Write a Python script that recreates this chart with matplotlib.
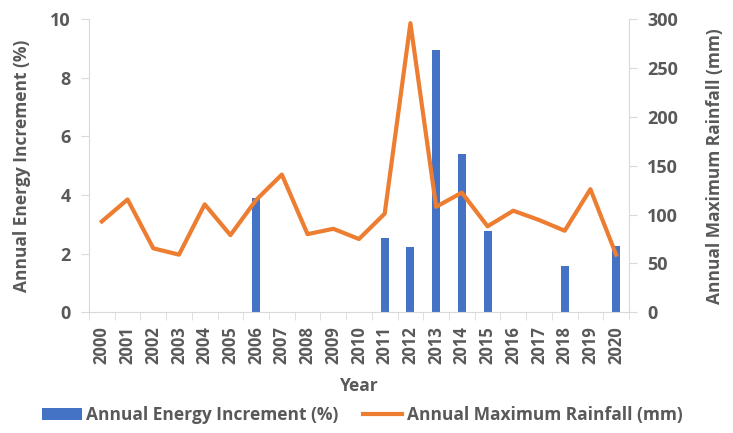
import numpy as np
import matplotlib; matplotlib.use("Agg")
import matplotlib.pyplot as plt

# ── Data ──────────────────────────────────────────────────────────────────────
years = [str(y) for y in range(2000, 2021)]
energy_increment = [0, 0, 0, 0, 0, 0, 3.90, 0, 0, 0, 0,
                    2.54, 2.23, 8.95, 5.40, 2.78, 0, 0, 1.58, 0, 2.26]
max_rainfall = [93, 115.5, 65.5, 59, 110.5, 79, 115, 141, 80, 85.5, 75,
                101, 296, 108, 122.5, 88, 104, 94.5, 83.5, 126, 59]

BAR_C  = "#4472C4"
LINE_C = "#ED7D31"
TXT_C  = "#595959"
AX_C   = "#D9D9D9"

plt.rcParams["font.family"] = ["Open Sans", "DejaVu Sans"]
plt.rcParams["font.weight"] = "bold"

fig = plt.figure(figsize=(7.33, 4.33), dpi=100)
ax = fig.add_axes([0.1214, 0.2788, 0.7367, 0.6767])
ax2 = ax.twinx()

x = np.arange(len(years))
ax.bar(x, energy_increment, width=0.31, color=BAR_C, zorder=2,
       label="Annual Energy Increment (%)")
ax2.plot(x, max_rainfall, color=LINE_C, lw=3, zorder=3,
         label="Annual Maximum Rainfall (mm)")

ax.set_xlim(-0.5, len(years) - 0.5)
ax.set_ylim(0, 10)
ax2.set_ylim(0, 300)
ax.set_yticks(range(0, 11, 2))
ax2.set_yticks(range(0, 301, 50))

ax.set_xticks(x)
ax.set_xticklabels(years, rotation=90)
ax.set_xticks(np.arange(-0.5, len(years)), minor=True)
ax.tick_params(axis="x", which="major", length=0, pad=10)
ax.tick_params(axis="x", which="minor", length=6, color=AX_C)

for a in (ax, ax2):
    for s in a.spines.values():
        s.set_visible(False)
    a.tick_params(axis="y", length=6, color=AX_C, labelsize=13,
                  labelcolor=TXT_C, pad=7)
for lbl in ax.get_yticklabels() + ax2.get_yticklabels() + ax.get_xticklabels():
    lbl.set_fontweight("bold")
ax.tick_params(axis="x", labelsize=12, labelcolor=TXT_C)
for side in ("bottom", "left"):
    ax.spines[side].set_visible(True)
    ax.spines[side].set_color(AX_C)
ax2.spines["right"].set_visible(True)
ax2.spines["right"].set_color(AX_C)

ax.set_xlabel("Year", fontsize=12.5, color=TXT_C, fontweight="bold", labelpad=9)
ax.set_ylabel("Annual Energy Increment (%)", fontsize=12.5, color=TXT_C,
              fontweight="bold", labelpad=14)
ax2.set_ylabel("Annual Maximum Rainfall (mm)", fontsize=12.5, color=TXT_C,
               fontweight="bold", labelpad=20)

h1, l1 = ax.get_legend_handles_labels()
h2, l2 = ax2.get_legend_handles_labels()
fig.legend(h1 + h2, l1 + l2, loc="center", bbox_to_anchor=(0.494, 0.042),
           ncol=2, frameon=False, prop={"size": 12.5, "weight": "bold"},
           labelcolor=TXT_C, handlelength=2.3, handletextpad=0.25,
           columnspacing=1.4, borderaxespad=0)

fig.savefig("out.png", dpi=100)
plt.close()
